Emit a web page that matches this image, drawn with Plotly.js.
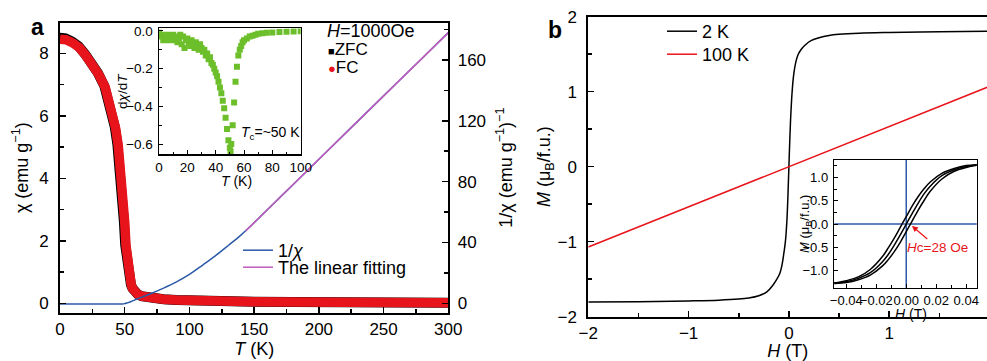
<!DOCTYPE html>
<html>
<head>
<meta charset="utf-8">
<script src="https://cdn.plot.ly/plotly-3.0.1.min.js"></script>
<style>html,body{margin:0;padding:0;background:#fff;}#chart{width:987px;height:361px;}</style>
</head>
<body>
<div id="chart"></div>
<script>
// ---------- Panel a: susceptibility ----------
const T_chi = [0, 2, 5, 10, 15, 20, 25, 30, 35, 40, 43, 45, 47, 48, 49, 50, 51, 52, 53, 54, 55, 56, 58, 60, 63, 66, 70, 75, 80, 90, 100, 120, 150, 180, 200, 250, 300];
const chi_FC = [8.45, 8.45, 8.43, 8.33, 8.18, 7.93, 7.65, 7.32, 6.9, 6.2, 5.6, 5.05, 4.3, 3.85, 3.3, 2.6, 1.85, 1.3, 0.98, 0.75, 0.6, 0.48, 0.36, 0.29, 0.23, 0.2, 0.17, 0.15, 0.13, 0.11, 0.09, 0.07, 0.05, 0.04, 0.035, 0.03, 0.02];
const T_ZFC = [-0.7, 1.3, 4.3, 9.3, 14.3, 19.3, 24.3, 29.3, 34.3, 39.3, 42.3, 44.3, 46.3, 47.3, 48.3, 49.3, 50.4, 51.5, 52.6, 53.7, 54.8, 56, 58, 60, 63, 66, 70, 75, 80, 90, 100, 120, 150, 180, 200, 250, 300];
const chi_ZFC = [8.5, 8.5, 8.48, 8.38, 8.23, 7.98, 7.7, 7.37, 6.95, 6.25, 5.65, 5.1, 4.35, 3.9, 3.35, 2.65, 1.87, 1.32, 0.99, 0.75, 0.6, 0.48, 0.36, 0.29, 0.23, 0.2, 0.17, 0.15, 0.13, 0.11, 0.09, 0.07, 0.05, 0.04, 0.035, 0.03, 0.02];
const T_inv = [0, 10, 20, 30, 40, 48, 50, 52, 55, 60, 65, 70, 80, 90, 100, 110, 120, 130, 140, 150, 160, 180, 200, 220, 250, 280, 300];
const inv_chi = [-0.45, -0.45, -0.45, -0.45, -0.45, -0.4, -0.2, 0.3, 1.2, 3.0, 4.6, 6.3, 10.0, 14.1, 19.0, 25.0, 31.2, 38.0, 45.0, 53.0, 61.4, 78.0, 94.7, 111.4, 136.4, 161.3, 178.0];
const T_fit = [143.5, 300];
const fit_vals = [47.6, 178.0];

// inset a: derivative
const T_deriv = [0,1,2,3,4,5,6,7,8,9,10,11,12,13,14,15,16,17,18,19,20,21,22,23,24,25,26,27,28,29,30,31,32,33,34,35,36,37,38,39,40,41,42,43,44,45,46,47,48,49,50,50.5,51,52,53,54,55,56,57,58,59,60,62,64,66,68,70,73,76,80,85,90,95,100];
const dchi_dT = [-0.01,-0.03,-0.02,-0.05,-0.03,-0.04,-0.02,-0.05,-0.03,-0.04,-0.02,-0.05,-0.03,-0.06,-0.04,-0.02,-0.07,-0.03,-0.09,-0.05,-0.04,-0.06,-0.08,-0.05,-0.07,-0.09,-0.06,-0.08,-0.10,-0.07,-0.09,-0.11,-0.10,-0.13,-0.12,-0.15,-0.14,-0.17,-0.18,-0.20,-0.22,-0.24,-0.27,-0.30,-0.33,-0.37,-0.41,-0.46,-0.52,-0.58,-0.62,-0.64,-0.60,-0.50,-0.38,-0.27,-0.19,-0.13,-0.10,-0.08,-0.06,-0.05,-0.04,-0.03,-0.025,-0.02,-0.015,-0.012,-0.01,-0.008,-0.005,-0.004,-0.003,-0.002];

// ---------- Panel b: M(H) ----------
const H_2K = [-2, -1.5, -1, -0.7, -0.5, -0.4, -0.3, -0.22, -0.16, -0.12, -0.09, -0.07, -0.05, -0.035, -0.02, -0.01, 0, 0.01, 0.02, 0.035, 0.05, 0.07, 0.09, 0.12, 0.16, 0.22, 0.3, 0.4, 0.5, 0.7, 1, 1.5, 1.98];
const M_2K = [-1.805, -1.80, -1.79, -1.78, -1.765, -1.75, -1.72, -1.67, -1.58, -1.50, -1.42, -1.32, -1.15, -1.0, -0.72, -0.40, 0, 0.40, 0.72, 1.05, 1.25, 1.40, 1.49, 1.56, 1.62, 1.68, 1.72, 1.75, 1.765, 1.78, 1.79, 1.80, 1.805];
const H_100K = [-2, -1, 0, 1, 1.98];
const M_100K = [-1.07, -0.535, 0, 0.535, 1.06];

// inset b: hysteresis loop
const H_loop = [-0.048, -0.04, -0.032, -0.024, -0.016, -0.012, -0.008, -0.004, 0, 0.004, 0.008, 0.012, 0.016, 0.024, 0.032, 0.04, 0.048];
const M_desc = [-1.26, -1.21, -1.13, -0.97, -0.70, -0.51, -0.30, -0.07, 0.16, 0.39, 0.59, 0.76, 0.90, 1.09, 1.19, 1.25, 1.27];
const M_asc = [-1.27, -1.25, -1.19, -1.09, -0.90, -0.76, -0.59, -0.39, -0.16, 0.07, 0.30, 0.51, 0.70, 0.97, 1.13, 1.21, 1.26];
const M_init = [-1.27, -1.23, -1.16, -1.04, -0.81, -0.65, -0.45, -0.23, 0, 0.23, 0.45, 0.65, 0.81, 1.04, 1.16, 1.23, 1.27];

const FONT = 'Liberation Sans, Arial, Helvetica, sans-serif';
const RED = '#e8141c', BLUE = '#2b5aa8', PURPLE = '#c25cbc', GREEN = '#6cbf2a';

const traces = [
  {x: T_ZFC, y: chi_ZFC, xaxis: 'x', yaxis: 'y', mode: 'lines', line: {color: '#000', width: 10}, name: 'ZFC', showlegend: false},
  {x: T_chi, y: chi_FC, xaxis: 'x', yaxis: 'y', mode: 'lines', line: {color: RED, width: 9.5}, name: 'FC', showlegend: false},
  {x: T_inv, y: inv_chi, xaxis: 'x', yaxis: 'y2', mode: 'lines', line: {color: BLUE, width: 1.5, shape: 'spline'}, name: '1/<i>χ</i>', legend: 'legend3'},
  {x: T_fit, y: fit_vals, xaxis: 'x', yaxis: 'y2', mode: 'lines', line: {color: PURPLE, width: 1.5}, name: 'The linear fitting', legend: 'legend4'},
  {x: T_deriv, y: dchi_dT, xaxis: 'x2', yaxis: 'y3', mode: 'markers', marker: {color: GREEN, size: 6, symbol: 'square'}, showlegend: false},
  {x: H_2K, y: M_2K, xaxis: 'x3', yaxis: 'y4', mode: 'lines', line: {color: '#000', width: 1.5, shape: 'spline'}, name: '2 K', legend: 'legend'},
  {x: H_100K, y: M_100K, xaxis: 'x3', yaxis: 'y4', mode: 'lines', line: {color: RED, width: 1.5}, name: '100 K', legend: 'legend2'},
  {x: H_loop, y: M_desc, xaxis: 'x4', yaxis: 'y5', mode: 'lines', line: {color: '#000', width: 1.5, shape: 'spline'}, showlegend: false},
  {x: H_loop, y: M_asc, xaxis: 'x4', yaxis: 'y5', mode: 'lines', line: {color: '#000', width: 1.5, shape: 'spline'}, showlegend: false},
  {x: H_loop, y: M_init, xaxis: 'x4', yaxis: 'y5', mode: 'lines', line: {color: '#000', width: 1.5, shape: 'spline'}, showlegend: false}
];

const W = 987, Hh = 361;
const px = v => v / W;
const py = v => 1 - v / Hh;

function ax(o) {
  return Object.assign({
    showline: true, linecolor: '#000', linewidth: 2, ticks: 'inside', ticklen: 6, tickwidth: 1.5, tickcolor: '#000',
    showgrid: false, zeroline: false, automargin: false, fixedrange: true, tickangle: 0,
    tickfont: {family: FONT, size: 17, color: '#000'}
  }, o);
}
function leg(xp, ytop) {
  return {x: px(xp), y: py(ytop), xanchor: 'left', yanchor: 'top', bgcolor: 'rgba(0,0,0,0)', borderwidth: 0,
    font: {family: FONT, size: 18, color: '#000'}, itemwidth: 30};
}

const layout = {
  width: W, height: Hh,
  margin: {l: 0, r: 0, t: 0, b: 0},
  paper_bgcolor: '#fff', plot_bgcolor: 'rgba(0,0,0,0)',
  font: {family: FONT, color: '#000'},
  showlegend: true,
  xaxis: ax({domain: [px(60), px(448.3)], range: [0, 300], anchor: 'y', mirror: true, tickvals: [0, 50, 100, 150, 200, 250, 300],
    minor: {dtick: 25, tick0: 0, ticks: 'inside', ticklen: 4, tickcolor: '#000'},
    title: {text: '<i>T</i> (K)', font: {family: FONT, size: 18}, standoff: 0}}),
  yaxis: ax({domain: [py(312.7), py(22.7)], range: [-0.3, 8.98], anchor: 'x', tickvals: [0, 2, 4, 6, 8], ticklabelstandoff: 6,
    minor: {dtick: 1, tick0: 0, ticks: 'inside', ticklen: 4, tickcolor: '#000'},
    title: {text: 'χ (emu g<sup>−1</sup>)', font: {family: FONT, size: 18}, standoff: 6}}),
  yaxis2: ax({overlaying: 'y', side: 'right', anchor: 'x', range: [-6.18, 184.5], tickvals: [0, 40, 80, 120, 160], ticklabelstandoff: 4,
    minor: {dtick: 20, tick0: 0, ticks: 'inside', ticklen: 4, tickcolor: '#000'},
    title: {text: '1/χ (emu g<sup>−1</sup>)<sup>−1</sup>', font: {family: FONT, size: 18}, standoff: 14}}),
  xaxis2: ax({domain: [px(159), px(300.7)], range: [0, 100], anchor: 'y3', mirror: true, linewidth: 1.5, ticklen: 4, tickwidth: 1,
    tickvals: [0, 20, 40, 60, 80, 100], tickfont: {family: FONT, size: 13.5},
    minor: {dtick: 10, tick0: 0, ticks: 'inside', ticklen: 2.5, tickcolor: '#000'}}),
  yaxis3: ax({domain: [py(154), py(28.3)], range: [-0.653, 0.014], anchor: 'x2', mirror: true, linewidth: 1.5, ticklen: 4, tickwidth: 1,
    tickvals: [0, -0.2, -0.4, -0.6], tickformat: '.1f', tickfont: {family: FONT, size: 13.5}, ticklabelstandoff: 2,
    minor: {dtick: 0.1, tick0: 0, ticks: 'inside', ticklen: 2.5, tickcolor: '#000'}}),
  xaxis3: ax({domain: [px(588.3), 1], range: [-2, 1.975], anchor: 'y4', mirror: true, tickvals: [-2, -1, 0, 1],
    minor: {dtick: 0.5, tick0: 0, ticks: 'inside', ticklen: 4, tickcolor: '#000'},
    title: {text: '<i>H</i> (T)', font: {family: FONT, size: 18}, standoff: 8}}),
  yaxis4: ax({domain: [py(316.7), py(16.7)], range: [-2, 2], anchor: 'x3', tickvals: [-2, -1, 0, 1, 2], ticklabelstandoff: 6,
    minor: {dtick: 0.5, tick0: 0, ticks: 'inside', ticklen: 4, tickcolor: '#000'},
    title: {text: '<i>M</i> (μ<sub>B</sub>/f.u.)', font: {family: FONT, size: 18}, standoff: 2}}),
  xaxis4: ax({domain: [px(834.3), px(976.7)], range: [-0.048, 0.047], anchor: 'y5', mirror: true, linewidth: 1.5, ticklen: 4, tickwidth: 1,
    tickvals: [-0.04, -0.02, 0, 0.02, 0.04], tickformat: '.2f', tickfont: {family: FONT, size: 13},
    minor: {dtick: 0.01, tick0: 0, ticks: 'inside', ticklen: 2.5, tickcolor: '#000'}}),
  yaxis5: ax({domain: [py(287.7), py(160)], range: [-1.36, 1.37], anchor: 'x4', mirror: true, linewidth: 1.5, ticklen: 4, tickwidth: 1,
    tickvals: [-1, -0.5, 0, 0.5, 1], tickformat: '.1f', tickfont: {family: FONT, size: 13}, ticklabelstandoff: 2,
    minor: {dtick: 0.25, tick0: 0, ticks: 'inside', ticklen: 2.5, tickcolor: '#000'}}),
  legend: leg(662, 13),
  legend2: leg(662, 36),
  legend3: leg(238, 232),
  legend4: leg(238, 249),
  shapes: [
    {type: 'line', xref: 'x4', yref: 'y5 domain', x0: 0, x1: 0, y0: 0, y1: 1, line: {color: BLUE, width: 1.5}, layer: 'below'},
    {type: 'line', xref: 'x4 domain', yref: 'y5', x0: 0, x1: 1, y0: 0, y1: 0, line: {color: BLUE, width: 1.5}, layer: 'below'}
  ],
  annotations: [
    {text: '<b>a</b>', xref: 'paper', yref: 'paper', x: px(29), y: py(27), xanchor: 'left', yanchor: 'middle', showarrow: false, font: {family: FONT, size: 23}},
    {text: '<b>b</b>', xref: 'paper', yref: 'paper', x: px(546), y: py(30), xanchor: 'left', yanchor: 'middle', showarrow: false, font: {family: FONT, size: 23}},
    {text: '<i>H</i>=1000Oe', xref: 'paper', yref: 'paper', x: px(325), y: py(31), xanchor: 'left', yanchor: 'middle', showarrow: false, font: {family: FONT, size: 18}},
    {text: '<span style="font-size:11px">■</span>ZFC', xref: 'paper', yref: 'paper', x: px(326), y: py(49), xanchor: 'left', yanchor: 'middle', showarrow: false, font: {family: FONT, size: 17}},
    {text: '<span style="font-size:13px;fill:' + RED + '">●</span>FC', xref: 'paper', yref: 'paper', x: px(326), y: py(67), xanchor: 'left', yanchor: 'middle', showarrow: false, font: {family: FONT, size: 17}},
    {text: '<i>T</i><sub>c</sub>=~50 K', xref: 'paper', yref: 'paper', x: px(239), y: py(133), xanchor: 'left', yanchor: 'middle', showarrow: false, font: {family: FONT, size: 14}},
    // inset a axis titles
    {text: 'd<i>χ</i>/d<i>T</i>', xref: 'paper', yref: 'paper', x: px(122), y: py(91), xanchor: 'center', yanchor: 'middle', textangle: -90, showarrow: false, font: {family: FONT, size: 13.5}},
    {text: '<i>T</i> (K)', xref: 'paper', yref: 'paper', x: px(236), y: py(181), xanchor: 'center', yanchor: 'middle', showarrow: false, font: {family: FONT, size: 14}},
    // inset b axis titles
    {text: '<i>M</i> (μ<sub>B</sub>/f.u.)', xref: 'paper', yref: 'paper', x: px(806), y: py(224), xanchor: 'center', yanchor: 'middle', textangle: -90, showarrow: false, font: {family: FONT, size: 13}},
    {text: '<i>H</i> (T)', xref: 'paper', yref: 'paper', x: px(911), y: py(314), xanchor: 'center', yanchor: 'middle', showarrow: false, font: {family: FONT, size: 14}},
    {text: '<i>H</i>c=28 Oe', xref: 'x4', yref: 'y5', x: 0.0038, y: -0.04, ax: 26, ay: 22, showarrow: true, arrowhead: 2, arrowsize: 1, arrowwidth: 1.2, arrowcolor: RED, font: {family: FONT, size: 13.5, color: RED}}
  ]
};

Plotly.newPlot('chart', traces, layout, {staticPlot: true, displayModeBar: false});
</script>
</body>
</html>
